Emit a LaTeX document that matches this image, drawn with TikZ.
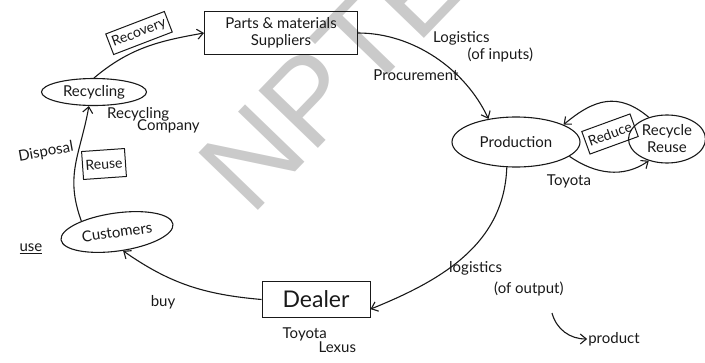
\documentclass[tikz,border=0pt]{standalone}
\usepackage{fontspec}
\setmainfont{Lato}
\newfontfamily\markfont{Liberation Sans}
\usepackage{tikz}
\usetikzlibrary{arrows.meta,positioning,shapes,calc}
\definecolor{ink}{RGB}{25,25,25}
\definecolor{markgray}{RGB}{202,202,202}

\begin{document}
\begin{tikzpicture}[x=1pt, y=1pt,
        every node/.style={font=\fontsize{15}{17}\selectfont, text=ink},
        node distance=4pt,
        box/.style={rectangle, draw=ink, line width=1pt, align=center, inner sep=2pt},
        oval/.style={ellipse, draw=ink, line width=1.1pt, align=center, inner sep=0pt},
        tag/.style={rectangle, draw=ink, line width=1pt, inner sep=3pt, font=\fontsize{14}{16}\selectfont},
        note/.style={align=left, inner sep=1pt},
        arrow/.style={-{Straight Barb[length=6pt, width=10pt]}, line width=1.1pt, ink}
    ]
    \useasboundingbox (0,0) rectangle (705,-362);
    % watermark
    \node[anchor=base west, rotate=46, inner sep=0pt, text=markgray, font=\markfont\fontsize{120}{120}\selectfont] (mark) at (251,-218) {NPTEL};

    \node[box, minimum width=153pt, minimum height=43pt] (supp) at (281,-33) {Parts \& materials\\Suppliers};
    \node[oval, minimum width=128pt, minimum height=50pt] (prod) at (516,-142) {Production};
    \node[oval, minimum width=77pt, minimum height=48pt] (rr) at (667,-139) {Recycle\\Reuse};
    \node[tag, rotate=20, minimum height=24pt] (reduce) at (610,-134) {Reduce};
    \node[box, minimum width=108pt, minimum height=36pt, font=\fontsize{23}{25}\selectfont] (dealer) at (316,-299.5) {Dealer};
    \node[oval, rotate=8, minimum width=113pt, minimum height=38pt] (cust) at (117,-232) {Customers};
    \node[oval, minimum width=105pt, minimum height=27pt] (recyc) at (94,-92) {Recycling};
    \node[tag, rotate=21, minimum height=22pt] (recov) at (139,-33) {Recovery};
    \node[tag, rotate=4, minimum height=28pt] (reuse) at (104,-164) {Reuse};

    % labels
    \node[note] (toyota) at (569,-181) {Toyota};
    \node[note, below right=9pt and 20pt of dealer.south west] (brands) {Toyota\\[-3pt]\hspace{2.4em}Lexus};
    \node[note, anchor=north west] (recycomp) at (106,-106) {Recycling\\[-5pt]\hspace{2em}Company};
    \node[note, rotate=10] (disposal) at (46,-152) {Disposal};
    \node[note] (use) at (31,-249) {\underline{use}};
    \node[note] (buy) at (163,-302) {buy};
    \node[note, anchor=north west] (loin) at (432,-30) {Logistics\\\hspace{2.3em}(of inputs)};
    \node[note] (procure) at (416,-75) {Procurement};
    \node[note, anchor=north west] (loout) at (448,-260) {logistics\\[4pt]\hspace{3em}(of output)};
    \node[note] (product) at (614,-339) {product};
    \coordinate (hook) at (552,-313);

    \draw[arrow] (recyc.north) to[out=40, in=190] (supp.west);
    \draw[arrow] (supp.east) to[out=0, in=115, looseness=0.9] (prod.140);
    \draw[arrow] (prod.250) to[out=-92, in=22] (dealer.-10);
    \draw[arrow] (dealer.west) to[out=175, in=-35] (cust.-80);
    \draw[arrow] (cust.155) to[out=110, in=-100, looseness=1.1] (recyc.250);
    \draw[arrow] (rr.130) to[out=140, in=40, looseness=1.2] (prod.20);
    \draw[arrow] (prod.-15) to[out=-35, in=-145] (rr.230);
    \draw[arrow] (hook) to[out=-75, in=180] (product.west);
\end{tikzpicture}
\end{document}
